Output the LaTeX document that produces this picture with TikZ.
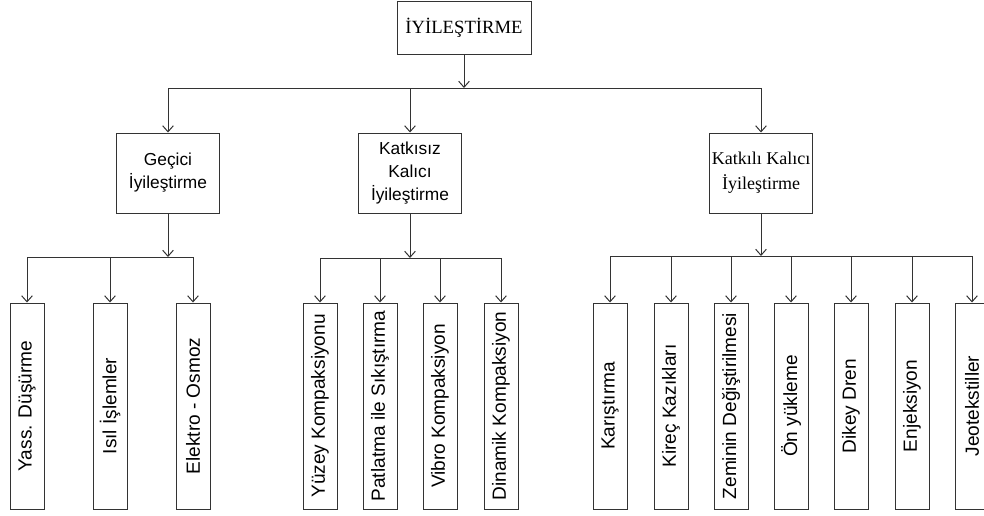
\documentclass[tikz,border=0pt]{standalone}
\usepackage{fontspec}
\setmainfont{Liberation Serif}
\setsansfont{Liberation Sans}
\usetikzlibrary{arrows.meta}

\begin{document}
\begin{tikzpicture}[
      x=0.75pt, y=-0.75pt,
      box_root/.style={draw=black!80, line width=0.75pt, minimum width=100.5pt, minimum height=39.75pt,
        inner sep=0pt, font=\fontsize{14}{16}\selectfont},
      box_group/.style={draw=black!80, line width=0.75pt, minimum width=77.25pt, minimum height=60pt,
        inner sep=0pt, align=center, font=\sffamily\fontsize{13}{17.25}\selectfont},
      box_leaf/.style={draw=black!80, line width=0.75pt, minimum width=25.5pt, minimum height=154.5pt,
        inner sep=0pt, font=\sffamily\fontsize{14.3}{16}\selectfont},
      link/.style={black!80, line width=0.75pt},
      trans/.style={link,-{Straight Barb[length=4.5pt,width=8pt]}},
    ]
    \useasboundingbox (0,0) rectangle (984,515);
    % Draw the main node and the three groups.
    \node[box_root] (root) at (464,27.5) {İYİLEŞTİRME};
    \node[box_group] (gecici) at (168,173) {Geçici\\İyileştirme};
    \node[box_group] (katkisiz) at (410,173) {Katkısız\\Kalıcı\\İyileştirme};
    \node[box_group,font=\fontsize{13.5}{18.75}\selectfont] (katkili) at (761,173) {Katkılı Kalıcı\\İyileştirme};

    % Draw the methods of each group.
    \node[box_leaf] (yass) at (27,406) {\rotatebox{90}{Yass. Düşürme}};
    \node[box_leaf] (isil) at (110,406) {\rotatebox{90}{Isıl İşlemler}};
    \node[box_leaf] (elektro) at (193,406) {\rotatebox{90}{Elektro - Osmoz}};

    \node[box_leaf] (yuzey) at (320,406) {\rotatebox{90}{Yüzey Kompaksiyonu}};
    \node[box_leaf] (patlatma) at (380,406) {\rotatebox{90}{Patlatma ile Sıkıştırma}};
    \node[box_leaf] (vibro) at (440,406) {\rotatebox{90}{Vibro Kompaksiyon}};
    \node[box_leaf] (dinamik) at (501,406) {\rotatebox{90}{Dinamik Kompaksiyon}};

    \node[box_leaf] (karistirma) at (610,406) {\rotatebox{90}{Karıştırma}};
    \node[box_leaf] (kirec) at (671,406) {\rotatebox{90}{Kireç Kazıkları}};
    \node[box_leaf] (zemin) at (731,406) {\rotatebox{90}{Zeminin Değiştirilmesi}};
    \node[box_leaf] (onyukleme) at (791,406) {\rotatebox{90}{Ön yükleme}};
    \node[box_leaf] (dren) at (851,406) {\rotatebox{90}{Dikey Dren}};
    \node[box_leaf] (enjeksiyon) at (912,406) {\rotatebox{90}{Enjeksiyon}};
    \node[box_leaf] (jeo) at (972,406) {\rotatebox{90}{Jeotekstiller}};

    % Draw the connectors.
    \coordinate (bar_root) at (464,88);
    \draw[trans] (root) -- (bar_root);
    \draw[link] (gecici |- bar_root) -- (katkili |- bar_root);
    \draw[trans] (gecici |- bar_root) -- (gecici);
    \draw[trans] (katkisiz |- bar_root) -- (katkisiz);
    \draw[trans] (katkili |- bar_root) -- (katkili);

    \coordinate (bar_gecici) at (168,257);
    \draw[trans] (gecici) -- (bar_gecici);
    \draw[link] (yass |- bar_gecici) -- (elektro |- bar_gecici);
    \draw[trans] (yass |- bar_gecici) -- (yass);
    \draw[trans] (isil |- bar_gecici) -- (isil);
    \draw[trans] (elektro |- bar_gecici) -- (elektro);

    \coordinate (bar_katkisiz) at (410,258);
    \draw[trans] (katkisiz) -- (bar_katkisiz);
    \draw[link] (yuzey |- bar_katkisiz) -- (dinamik |- bar_katkisiz);
    \draw[trans] (yuzey |- bar_katkisiz) -- (yuzey);
    \draw[trans] (patlatma |- bar_katkisiz) -- (patlatma);
    \draw[trans] (vibro |- bar_katkisiz) -- (vibro);
    \draw[trans] (dinamik |- bar_katkisiz) -- (dinamik);

    \coordinate (bar_katkili) at (761,256);
    \draw[trans] (katkili) -- (bar_katkili);
    \draw[link] (karistirma |- bar_katkili) -- (jeo |- bar_katkili);
    \draw[trans] (karistirma |- bar_katkili) -- (karistirma);
    \draw[trans] (kirec |- bar_katkili) -- (kirec);
    \draw[trans] (zemin |- bar_katkili) -- (zemin);
    \draw[trans] (onyukleme |- bar_katkili) -- (onyukleme);
    \draw[trans] (dren |- bar_katkili) -- (dren);
    \draw[trans] (enjeksiyon |- bar_katkili) -- (enjeksiyon);
    \draw[trans] (jeo |- bar_katkili) -- (jeo);
\end{tikzpicture}
\end{document}
